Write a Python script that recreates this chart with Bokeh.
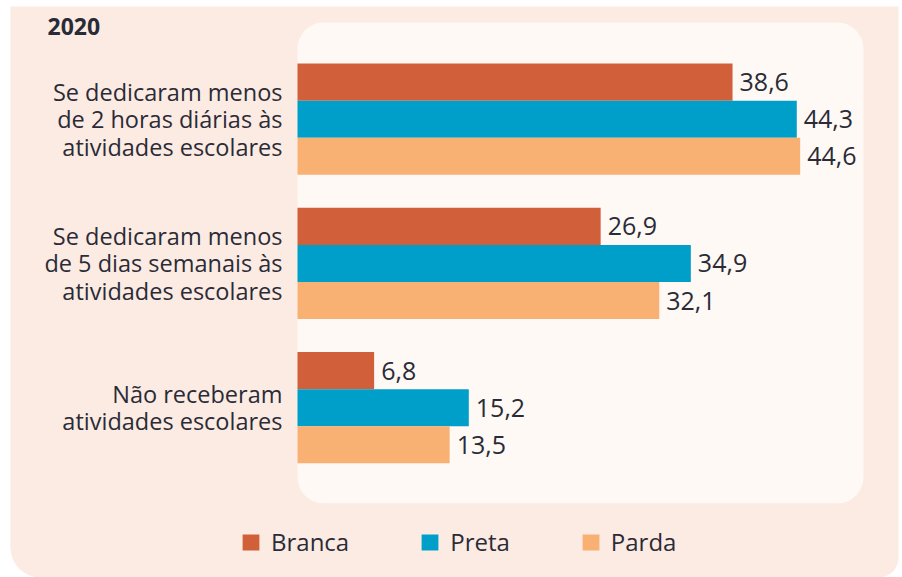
from bokeh.plotting import figure
from bokeh.models import (Range1d, ColumnDataSource, Label, Legend,
                          LegendItem, BoxAnnotation)
from bokeh.transform import dodge
from bokeh.embed import file_html
from bokeh.resources import INLINE
from bokeh.core.properties import value

# ---- data ----
groups = [
    "Se dedicaram menos\nde 2 horas diárias às\natividades escolares",
    "Se dedicaram menos\nde 5 dias semanais às\natividades escolares",
    "Não receberam\natividades escolares",
]
series = ["Branca", "Preta", "Parda"]
branca = [38.6, 26.9, 6.8]
preta = [44.3, 34.9, 15.2]
parda = [44.6, 32.1, 13.5]
colors = ["#d1603a", "#009fca", "#f8b073"]
year_label = "2020"

FONT = "Open Sans"
TXT = "#2b2b38"
PEACH = "#fcebe2"
INNER = "#fef9f4"

# group slot positions (top group highest)
ypos = list(range(len(groups)))[::-1]

p = figure(width=902, height=577, output_backend="svg", toolbar_location=None,
           x_range=Range1d(-26.35, 53.68), y_range=Range1d(-1.177, 2.823),
           min_border=0, min_border_left=0, min_border_right=0,
           min_border_top=0, min_border_bottom=0)
p.border_fill_color = "white"
p.background_fill_color = "white"
p.outline_line_color = None
p.xgrid.visible = False
p.ygrid.visible = False
p.xaxis.visible = False
p.yaxis.visible = False

outer = BoxAnnotation(left=-25.47, right=53.33, top=2.781, bottom=-1.177,
                      fill_color=PEACH, fill_alpha=1, line_alpha=0,
                      border_radius=(0, 0, 20, 30), level="underlay")
p.add_layout(outer)
inner = BoxAnnotation(left=0, right=50.22, top=2.670, bottom=-0.663,
                      fill_color=INNER, fill_alpha=1, line_alpha=0,
                      border_radius=26, level="underlay")
p.add_layout(inner)

bar_h = 0.257
offsets = [bar_h, 0.0, -bar_h]
vals = [branca, preta, parda]
items = []
for name, v, c, off in zip(series, vals, colors, offsets):
    src = ColumnDataSource(dict(y=ypos, v=v,
                                lab=[f"{x:.1f}".replace(".", ",") for x in v]))
    r = p.hbar(y=dodge("y", off), right="v", left=0,
               height=bar_h, source=src, fill_color=c, line_color=None)
    p.text(x="v", y=dodge("y", off), text="lab", source=src,
           x_offset=7, text_baseline="middle", text_align="left",
           text_font=value(FONT), text_font_size="25px", text_color=TXT)
    items.append(LegendItem(label=name, renderers=[r]))

cat_src = ColumnDataSource(dict(y=ypos, g=groups, x=[0] * len(groups)))
p.text(x="x", y="y", text="g", source=cat_src, x_offset=-15,
       text_align="right", text_baseline="middle", text_line_height=0.86,
       text_font=value(FONT), text_font_size="23.5px", text_color=TXT)

legend = Legend(items=items, orientation="horizontal", location=(240, 19),
                glyph_width=21, glyph_height=20, label_standoff=10, spacing=70,
                padding=0, margin=0, background_fill_alpha=0, border_line_alpha=0,
                label_text_font=FONT, label_text_font_size="24px",
                label_text_color=TXT)
p.add_layout(legend)

title = Label(x=-22.18, y=2.643, text=year_label,
              text_font=FONT, text_font_style="bold", text_font_size="23px",
              text_color=TXT, text_baseline="alphabetic")
p.add_layout(title)

open("out.html", "w").write(file_html(p, INLINE))
